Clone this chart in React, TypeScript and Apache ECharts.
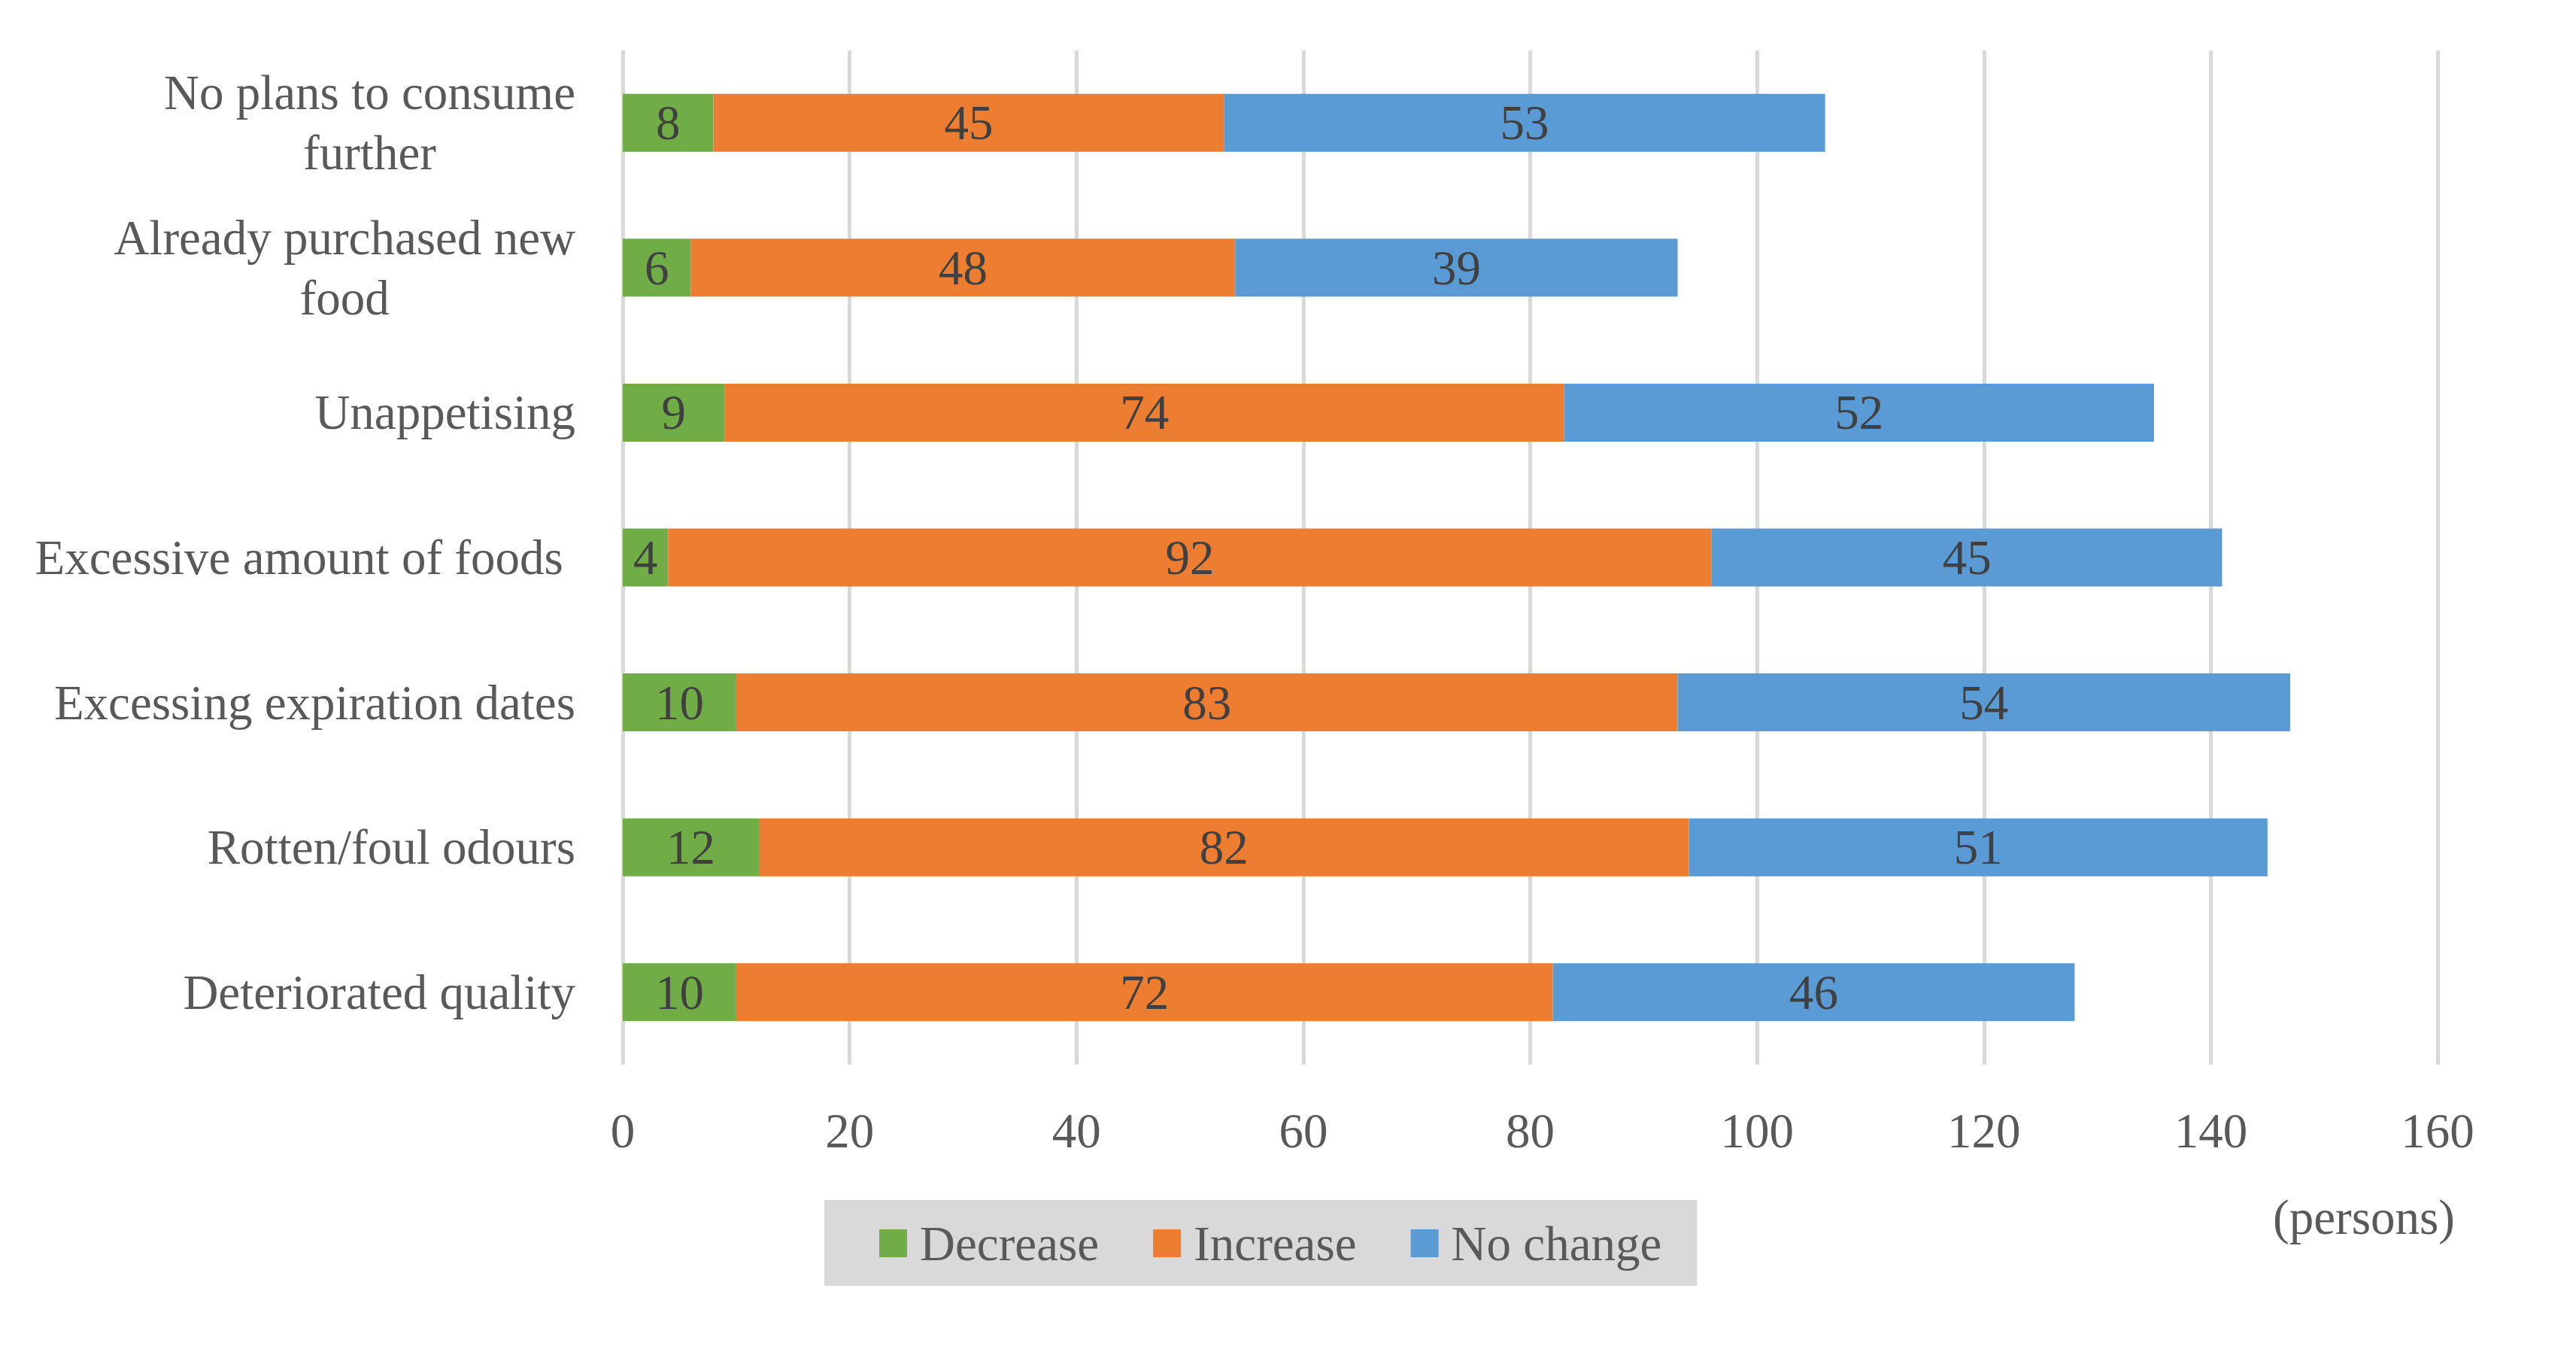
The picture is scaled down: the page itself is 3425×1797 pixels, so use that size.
import React, { useEffect, useRef } from "react";
import * as echarts from "echarts";

const categories = [
  "No plans to consume\nfurther",
  "Already purchased new\nfood",
  "Unappetising",
  "Excessive amount of foods ",
  "Excessing expiration dates",
  "Rotten/foul odours",
  "Deteriorated quality",
];
const decrease = [8, 6, 9, 4, 10, 12, 10];
const increase = [45, 48, 74, 92, 83, 82, 72];
const noChange = [53, 39, 52, 45, 54, 51, 46];
const seriesNames = ["Decrease", "Increase", "No change"];
const xTicks = { min: 0, max: 160, interval: 20 };
const unitLabel = "(persons)";

const FONT = "'Liberation Serif', serif";
const FS = 65;

export default function App() {
  const ref = useRef<HTMLDivElement>(null);
  useEffect(() => {
    if (!ref.current) return;
    const chart = echarts.init(ref.current, undefined, { renderer: "svg" });
    const labelStyle = {
      show: true,
      position: "inside",
      color: "#404040",
      fontSize: FS,
      fontFamily: FONT,
    };
    const mk = (name: string, data: number[], color: string) => ({
      name,
      type: "bar",
      stack: "total",
      barWidth: "40%",
      data,
      itemStyle: { color },
      label: labelStyle,
    });
    chart.setOption({
      animation: false,
      backgroundColor: "#ffffff",
      grid: { left: 828, right: 184, top: 67, bottom: 382, containLabel: false },
      xAxis: {
        type: "value",
        min: xTicks.min,
        max: xTicks.max,
        interval: xTicks.interval,
        axisLine: { show: false },
        axisTick: { show: false },
        splitLine: { show: true, lineStyle: { color: "#D9D9D9", width: 5 } },
        axisLabel: { color: "#595959", fontSize: FS, fontFamily: FONT, margin: 55 },
      },
      yAxis: {
        type: "category",
        inverse: true,
        data: categories,
        axisLine: { show: false },
        axisTick: { show: false },
        axisLabel: {
          margin: 63,
          color: "#595959",
          fontSize: FS,
          fontFamily: FONT,
          lineHeight: 80,
          formatter: (v: string) =>
            v
              .split("\n")
              .map((l) => `{c|${l}}`)
              .join("\n"),
          rich: {
            c: {
              align: "center",
              color: "#595959",
              fontSize: FS,
              fontFamily: FONT,
              lineHeight: 80,
            },
          },
        },
      },
      legend: {
        data: seriesNames,
        icon: "rect",
        itemWidth: 37,
        itemHeight: 37,
        itemGap: 72,
        left: 1096,
        top: 1595,
        backgroundColor: "#D9D9D9",
        padding: [25, 47, 24, 73],
        textStyle: {
          color: "#595959",
          fontSize: FS,
          fontFamily: FONT,
          padding: [0, 0, 0, 12],
        },
      },
      graphic: [
        {
          type: "text",
          x: 3143,
          y: 1618,
          style: {
            text: unitLabel,
            fill: "#595959",
            fontSize: FS,
            fontFamily: FONT,
            align: "center",
            verticalAlign: "middle",
          },
        },
      ],
      series: [
        mk(seriesNames[0], decrease, "#70AD47"),
        mk(seriesNames[1], increase, "#ED7D31"),
        mk(seriesNames[2], noChange, "#5B9BD5"),
      ],
    });
    return () => chart.dispose();
  }, []);
  return (
    <div
      ref={ref}
      style={{ position: "fixed", left: 0, top: 0, width: "100vw", height: "100vh", background: "#fff" }}
    />
  );
}
